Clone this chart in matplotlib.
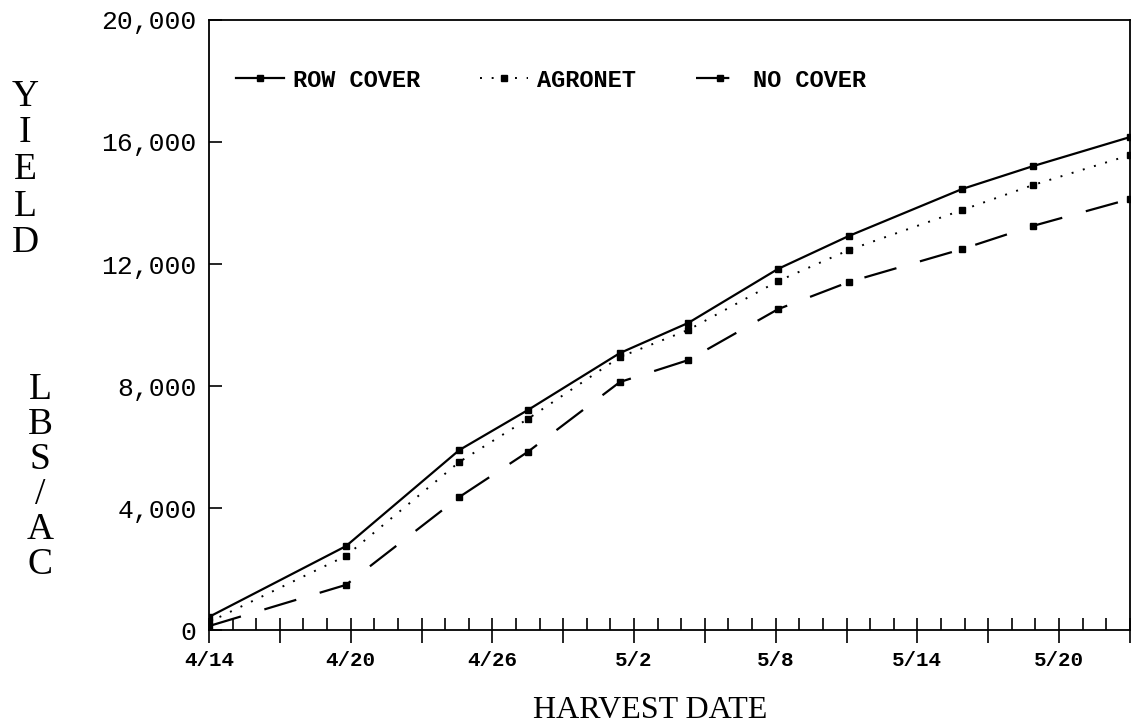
"""Yield vs harvest date for three cover treatments."""

from matplotlib import pyplot as plt
from matplotlib.ticker import FixedLocator, MultipleLocator, FuncFormatter

# Data. x = days after 4/14, y = yield in lbs/ac
days = [0, 5.8, 10.6, 13.5, 17.4, 20.3, 24.1, 27.1, 31.9, 34.9, 39]
row_cover = [430, 2750, 5900, 7210, 9080, 10070, 11840, 12920, 14460, 15210, 16160]
agronet = [260, 2430, 5510, 6920, 8950, 9840, 11440, 12460, 13770, 14590, 15570]
no_cover = [130, 1480, 4360, 5840, 8130, 8850, 10520, 11410, 12490, 13250, 14130]

series_names = ["ROW COVER", "AGRONET", "NO COVER"]
date_ticks = [0, 6, 12, 18, 24, 30, 36]
date_labels = ["4/14", "4/20", "4/26", "5/2", "5/8", "5/14", "5/20"]
yield_ticks = [0, 4000, 8000, 12000, 16000, 20000]

fig = plt.figure(figsize=(11.39, 7.27), dpi=100)
ax = fig.add_axes([0.1835, 0.1334, 0.8085, 0.8391])

ax.plot(days, row_cover, "k-", lw=1.6, marker="s", ms=5, label=series_names[0])
ax.plot(days, agronet, color="k", ls=(0, (1, 5)), lw=1.4, marker="s", ms=5,
        label=series_names[1])
ax.plot(days, no_cover, color="k", ls=(0, (15, 11)), lw=1.6, marker="s", ms=5,
        label=series_names[2])

ax.set_xlim(0, 39)
ax.set_ylim(0, 20000)

# x axis: crossing ticks every 3 days, small ticks every day, labels every 6
major_x = list(range(0, 40, 3))
ax.xaxis.set_major_locator(FixedLocator(major_x))
ax.xaxis.set_major_formatter(FuncFormatter(
    lambda v, p: date_labels[date_ticks.index(int(round(v)))] if int(round(v)) in date_ticks else ""))
ax.xaxis.set_minor_locator(MultipleLocator(1))
ax.tick_params(axis="x", which="major", direction="inout", length=18, width=1.2, pad=6)
ax.tick_params(axis="x", which="minor", direction="in", length=9, width=1.2)

ax.set_yticks(yield_ticks)
ax.yaxis.set_major_formatter(FuncFormatter(lambda v, p: f"{int(v):,}"))
ax.tick_params(axis="y", direction="in", length=9, width=1.2, pad=9)

for lab in ax.get_xticklabels():
    lab.set_family("Liberation Mono")
    lab.set_fontweight("bold")
    lab.set_fontsize(15)
for lab in ax.get_yticklabels():
    lab.set_family("Liberation Mono")
    lab.set_fontsize(19)

for s in ax.spines.values():
    s.set_linewidth(1.3)

ax.legend(loc="center left", bbox_to_anchor=(0.017, 0.9016), ncol=3, frameon=False,
          borderpad=0, handlelength=2.0, handletextpad=0.4, columnspacing=2.55,
          prop={"family": "Liberation Mono", "weight": "bold", "size": 17})

# stacked y-axis label letters
serif = "Liberation Serif"
for ch, yp in zip("YIELD", [97, 133, 170, 207, 243]):
    fig.text(25 / 1139, 1 - yp / 727, ch, family=serif, fontsize=27,
             ha="center", va="center")
for ch, yp in zip("LBS/AC", [390, 425, 460, 495, 530, 565]):
    fig.text(40 / 1139, 1 - yp / 727, ch, family=serif, fontsize=27,
             ha="center", va="center")

fig.text(650 / 1139, 1 - 710 / 727, "HARVEST DATE", family=serif, fontsize=23,
         ha="center", va="center")

fig.savefig("out.png", dpi=100)
